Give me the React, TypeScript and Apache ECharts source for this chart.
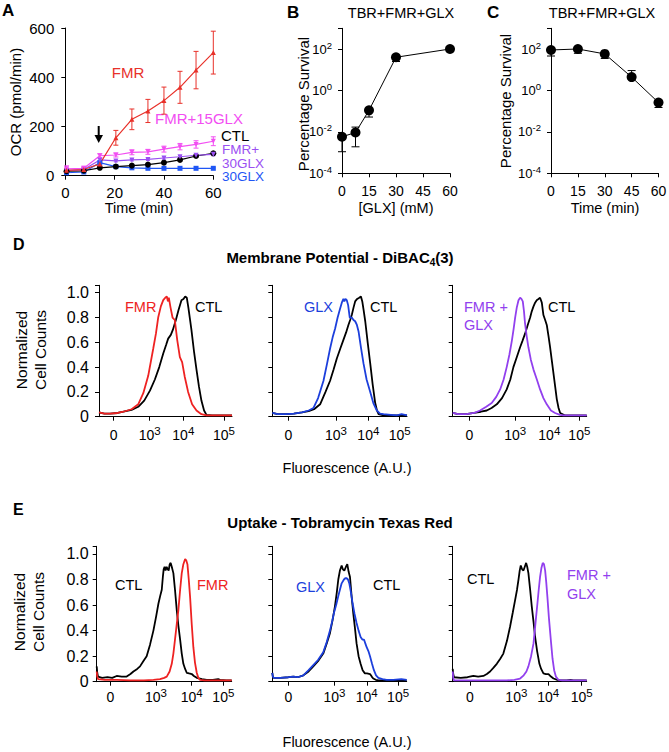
import React, { useEffect, useRef } from 'react';
import * as echarts from 'echarts';

const FONT = 'Arial, "Liberation Sans", Helvetica, sans-serif';

// ---------- Panel A : OCR (pmol/min) vs time (min) ----------
const OCR_TIME = [0.5, 7.5, 14, 20.5, 27, 33.5, 40, 46.5, 53, 60];
const OCR_FMR = [22, 25, 48, 154, 229, 263, 305, 359, 429, 500];
const OCR_FMR_SD = [8, 6, 8, 30, 42, 47, 55, 65, 76, 87];
const OCR_FMR15 = [28, 30, 81, 84, 95, 97, 108, 118, 127, 140];
const OCR_FMR15_SD = [12, 8, 8, 8, 10, 10, 12, 13, 15, 18];
const OCR_FMR30 = [22, 25, 64, 60, 64, 66, 72, 77, 83, 87];
const OCR_FMR30_SD = [5, 5, 5, 4, 4, 4, 5, 5, 5, 6];
const OCR_CTL = [18, 20, 32, 37, 41, 45, 53, 64, 80, 91];
const OCR_CTL_SD = [4, 4, 6, 4, 4, 4, 5, 5, 6, 6];
const OCR_GLX30 = [12, 15, 53, 37, 32, 30, 30, 30, 30, 30];
const OCR_GLX30_SD = [3, 3, 4, 3, 3, 3, 3, 3, 3, 3];

// ---------- Panel B : survival vs [GLX] ----------
const GLX_CONC = [0, 7.5, 15, 30, 60];
const SURV_B = [0.0058, 0.0093, 0.11, 40, 100];
const SURV_B_LO = [0.0011, 0.0019, 0.052, 25, 100];
const SURV_B_HI = [0.0058, 0.017, 0.11, 40, 100];

// ---------- Panel C : survival vs time ----------
const TIME_C = [0, 15, 30, 45, 60];
const SURV_C = [90, 100, 58, 4.4, 0.26];
const SURV_C_LO = [46, 62, 35, 4.4, 0.15];
const SURV_C_HI = [90, 100, 58, 9.1, 0.26];

// ---------- Flow histograms (x in display channel 0-1000, y normalized) ----------
const FLOW_LABELS = ['0', '10{s|3}', '10{s|4}', '10{s|5}'];
const TICKS_D1 = [110, 381, 634, 940];
const TICKS_D2 = [119, 473, 713, 946];
const TICKS_D3 = [124, 467, 721, 945];
const TICKS_E1 = [101, 439, 704, 938];
const TICKS_E2 = [119, 463, 703, 936];
const TICKS_E3 = [129, 475, 713, 963];

const D1_CTL = [[0,0.035],[40,0.025],[83,0.025],[140,0.03],[183,0.04],[245,0.055],[295,0.08],[340,0.13],[383,0.21],[420,0.3],[453,0.4],[483,0.51],[505,0.58],[520,0.63],[540,0.66],[555,0.7],[578,0.78],[598,0.86],[620,0.94],[635,0.95],[648,0.97],[660,0.96],[672,0.88],[685,0.78],[695,0.7],[715,0.52],[733,0.38],[752,0.24],[770,0.13],[790,0.05],[808,0.015],[850,0.01],[1000,0.01]];
const D1_FMR = [[0,0.035],[40,0.025],[83,0.025],[140,0.03],[183,0.04],[245,0.06],[295,0.1],[333,0.19],[370,0.33],[408,0.55],[428,0.67],[445,0.8],[465,0.89],[483,0.94],[498,0.96],[510,0.97],[518,0.93],[525,0.96],[538,0.88],[553,0.8],[570,0.78],[588,0.62],[608,0.48],[625,0.44],[645,0.32],[670,0.2],[700,0.1],[733,0.05],[770,0.02],[808,0.01],[1000,0.01]];
const D2_CTL = [[0,0.03],[40,0.02],[100,0.02],[160,0.025],[220,0.035],[270,0.045],[310,0.06],[355,0.1],[395,0.2],[429,0.29],[455,0.38],[479,0.47],[505,0.55],[528,0.62],[548,0.68],[565,0.74],[578,0.78],[590,0.82],[603,0.88],[615,0.93],[630,0.95],[645,0.96],[658,0.97],[668,0.93],[678,0.86],[690,0.77],[708,0.6],[727,0.43],[745,0.26],[764,0.11],[777,0.05],[789,0.02],[826,0.01],[1000,0.01]];
const D2_GLX = [[0,0.03],[40,0.02],[100,0.02],[160,0.025],[220,0.035],[270,0.05],[305,0.07],[340,0.15],[380,0.29],[405,0.42],[429,0.55],[448,0.64],[466,0.71],[485,0.8],[503,0.87],[516,0.92],[528,0.95],[535,0.93],[543,0.95],[553,0.94],[563,0.9],[575,0.8],[590,0.8],[603,0.78],[615,0.77],[628,0.74],[640,0.69],[658,0.56],[677,0.43],[700,0.3],[727,0.2],[750,0.11],[776,0.05],[800,0.025],[826,0.02],[880,0.015],[925,0.01],[960,0.02],[1000,0.01]];
const D3_CTL = [[0,0.03],[40,0.02],[100,0.02],[160,0.03],[210,0.04],[254,0.05],[290,0.07],[329,0.1],[368,0.15],[403,0.22],[430,0.3],[453,0.4],[478,0.48],[503,0.56],[520,0.61],[540,0.67],[560,0.74],[578,0.8],[590,0.85],[603,0.89],[615,0.92],[627,0.94],[640,0.95],[652,0.96],[665,0.92],[677,0.82],[690,0.78],[702,0.74],[715,0.65],[727,0.56],[740,0.45],[752,0.35],[765,0.24],[777,0.14],[790,0.07],[802,0.03],[839,0.01],[1000,0.01]];
const D3_FMRGLX = [[0,0.03],[40,0.02],[100,0.02],[160,0.03],[204,0.05],[250,0.08],[291,0.11],[325,0.16],[354,0.22],[380,0.3],[403,0.4],[423,0.5],[441,0.61],[455,0.71],[466,0.8],[478,0.88],[491,0.94],[503,0.96],[513,0.95],[523,0.93],[532,0.85],[540,0.75],[552,0.65],[565,0.56],[583,0.46],[603,0.38],[628,0.3],[652,0.22],[677,0.15],[702,0.1],[733,0.05],[764,0.03],[800,0.015],[827,0.01],[1000,0.01]];
const E1_CTL = [[0,0.12],[4,0.07],[10,0.04],[40,0.03],[80,0.035],[115,0.03],[148,0.045],[185,0.04],[222,0.04],[250,0.06],[272,0.08],[300,0.1],[321,0.12],[345,0.16],[370,0.2],[395,0.29],[420,0.4],[440,0.51],[457,0.61],[470,0.67],[482,0.72],[490,0.82],[496,0.88],[503,0.9],[510,0.87],[518,0.9],[526,0.88],[533,0.87],[541,0.92],[548,0.93],[556,0.9],[568,0.85],[580,0.72],[593,0.56],[605,0.44],[618,0.33],[630,0.22],[642,0.14],[655,0.1],[667,0.07],[685,0.065],[704,0.06],[720,0.045],[741,0.03],[780,0.02],[815,0.015],[860,0.015],[900,0.02],[914,0.015],[960,0.01],[1000,0.01]];
const E1_FMR = [[0,0.08],[4,0.04],[10,0.02],[60,0.015],[150,0.015],[250,0.01],[350,0.01],[420,0.015],[469,0.02],[500,0.03],[519,0.04],[540,0.08],[556,0.14],[568,0.22],[580,0.33],[593,0.45],[605,0.56],[618,0.72],[630,0.85],[642,0.92],[655,0.96],[663,0.95],[672,0.92],[682,0.8],[692,0.66],[704,0.45],[716,0.27],[728,0.15],[741,0.07],[753,0.03],[766,0.015],[800,0.01],[1000,0.01]];
const E2_CTL = [[0,0.07],[4,0.04],[10,0.03],[60,0.03],[120,0.035],[156,0.04],[190,0.035],[231,0.05],[270,0.08],[305,0.12],[340,0.16],[379,0.22],[405,0.3],[429,0.38],[448,0.48],[466,0.59],[480,0.7],[491,0.8],[503,0.87],[516,0.91],[525,0.88],[536,0.87],[548,0.9],[558,0.92],[568,0.86],[578,0.82],[590,0.67],[603,0.53],[615,0.42],[627,0.3],[642,0.2],[657,0.14],[672,0.09],[689,0.065],[705,0.065],[727,0.06],[740,0.04],[751,0.025],[770,0.015],[789,0.01],[1000,0.01]];
const E2_GLX = [[0,0.07],[4,0.04],[10,0.03],[60,0.03],[120,0.035],[156,0.04],[190,0.035],[231,0.05],[270,0.09],[305,0.13],[340,0.17],[379,0.23],[405,0.31],[429,0.4],[445,0.47],[459,0.54],[475,0.6],[491,0.67],[503,0.72],[516,0.77],[533,0.8],[543,0.81],[553,0.81],[563,0.8],[573,0.77],[585,0.7],[598,0.61],[612,0.53],[627,0.46],[642,0.4],[657,0.35],[670,0.33],[682,0.33],[692,0.3],[702,0.27],[715,0.24],[727,0.2],[742,0.14],[756,0.09],[772,0.05],[789,0.03],[820,0.02],[851,0.015],[900,0.015],[960,0.02],[1000,0.015]];
const E3_CTL = [[0,0.1],[4,0.06],[10,0.035],[60,0.03],[110,0.035],[154,0.045],[190,0.04],[229,0.045],[255,0.06],[279,0.08],[305,0.11],[329,0.14],[355,0.18],[378,0.22],[405,0.32],[428,0.43],[448,0.54],[466,0.64],[480,0.72],[491,0.8],[500,0.87],[508,0.91],[518,0.88],[528,0.87],[538,0.9],[548,0.93],[556,0.9],[565,0.85],[578,0.72],[590,0.59],[603,0.47],[615,0.35],[630,0.24],[647,0.14],[660,0.1],[677,0.065],[695,0.06],[715,0.06],[733,0.04],[752,0.025],[780,0.015],[802,0.01],[850,0.01],[880,0.015],[900,0.01],[1000,0.01]];
const E3_FMRGLX = [[0,0.08],[4,0.03],[10,0.01],[100,0.01],[200,0.01],[300,0.01],[403,0.01],[460,0.015],[503,0.025],[530,0.05],[550,0.08],[565,0.12],[585,0.2],[603,0.3],[618,0.46],[632,0.61],[642,0.72],[652,0.82],[662,0.89],[672,0.93],[681,0.92],[690,0.87],[698,0.78],[707,0.66],[718,0.5],[732,0.33],[745,0.18],[757,0.09],[770,0.04],[789,0.015],[820,0.01],[1000,0.01]];

// ---------- colours ----------
const C_RED = '#e8312a';
const C_MAG = '#f24ef2';
const C_PUR = '#9a50f2';
const C_BLU = '#1f56f5';
const H_RED = '#ee2222';
const H_BLU = '#1c3fdc';
const H_PUR = '#9240ee';

const pairs = (xs: number[], ys: number[]) => xs.map((x, i) => [x, ys[i]]);
const sdRows = (xs: number[], ys: number[], sd: number[]) => xs.map((x, i) => [x, ys[i] - sd[i], ys[i] + sd[i]]);
const loHiRows = (xs: number[], lo: number[], hi: number[]) => xs.map((x, i) => [x, lo[i], hi[i]]);

const AX_LINE = { show: true, onZero: false, lineStyle: { color: '#000', width: 1 } };
const AX_TICK = { show: true, inside: false, length: 4, lineStyle: { color: '#000', width: 1 } };
const NO_SPLIT = { show: false };

function errorSeries(axis: number, data: number[][], color: string, cap: number) {
  return {
    type: 'custom',
    xAxisIndex: axis,
    yAxisIndex: axis,
    data,
    silent: true,
    z: 2,
    encode: { x: 0, y: [1, 2] },
    renderItem: (_p: any, api: any) => {
      const x = api.value(0);
      const lo = api.coord([x, api.value(1)]);
      const hi = api.coord([x, api.value(2)]);
      const h = cap / 2;
      const style = { stroke: color, lineWidth: 1, fill: 'none' };
      return {
        type: 'group',
        children: [
          { type: 'line', shape: { x1: lo[0], y1: lo[1], x2: hi[0], y2: hi[1] }, style },
          { type: 'line', shape: { x1: lo[0] - h, y1: lo[1], x2: lo[0] + h, y2: lo[1] }, style },
          { type: 'line', shape: { x1: hi[0] - h, y1: hi[1], x2: hi[0] + h, y2: hi[1] }, style },
        ],
      };
    },
  };
}

function ocrLine(data: number[][], color: string, symbol: string, size: number, rot = 0) {
  return {
    type: 'line', xAxisIndex: 0, yAxisIndex: 0, data,
    symbol, symbolSize: size, symbolRotate: rot, showSymbol: true,
    lineStyle: { color, width: 1.2 }, itemStyle: { color }, z: 3,
  };
}

function survLine(axis: number, data: number[][]) {
  return {
    type: 'line', xAxisIndex: axis, yAxisIndex: axis, data,
    symbol: 'circle', symbolSize: 10, showSymbol: true,
    lineStyle: { color: '#000', width: 1 }, itemStyle: { color: '#000' }, z: 3,
  };
}

function histLine(axis: number, data: number[][], color: string) {
  return {
    type: 'line', xAxisIndex: axis, yAxisIndex: axis, data,
    symbol: 'none', showSymbol: false,
    lineStyle: { color, width: 1.8 }, z: 3,
  };
}

function supLabel(v: number) {
  const e = Math.round(Math.log10(v));
  if (e % 2 !== 0) return '';
  return '10{s|' + e + '}';
}

function logY(grid: number) {
  return {
    type: 'log', gridIndex: grid, logBase: 100, min: 1e-4, max: 1e3, splitNumber: 4,
    axisLine: AX_LINE, axisTick: AX_TICK, splitLine: NO_SPLIT,
    axisLabel: {
      formatter: supLabel, color: '#000', fontSize: 13, margin: 10, lineHeight: 18,
      rich: { s: { fontSize: 9.5, verticalAlign: 'top', color: '#000' } },
    },
  };
}

function linX(grid: number, max: number, interval: number, fs: number, margin: number) {
  return {
    type: 'value', gridIndex: grid, min: 0, max, interval,
    axisLine: AX_LINE, axisTick: AX_TICK, splitLine: NO_SPLIT,
    axisLabel: { color: '#000', fontSize: fs, margin },
  };
}

function histX(grid: number, ticks: number[], margin: number) {
  return {
    type: 'value', gridIndex: grid, min: 0, max: 1000,
    axisLine: AX_LINE, splitLine: NO_SPLIT,
    axisTick: { ...AX_TICK, customValues: ticks },
    axisLabel: {
      customValues: ticks, color: '#000', fontSize: 14, margin, lineHeight: 20,
      formatter: (v: number) => {
        const i = ticks.findIndex((t) => Math.abs(t - v) < 0.5);
        return i < 0 ? '' : FLOW_LABELS[i];
      },
      rich: { s: { fontSize: 11.5, verticalAlign: 'top', color: '#000' } },
    },
  };
}

function histY(grid: number, show: boolean, margin: number) {
  return {
    type: 'value', gridIndex: grid, min: 0, max: 1.06, interval: 0.2,
    axisLine: AX_LINE, axisTick: AX_TICK, splitLine: NO_SPLIT,
    axisLabel: {
      show, color: '#000', fontSize: 16, margin,
      formatter: (v: number) => (v > 1.001 ? '' : v === 0 ? '0' : v.toFixed(1)),
    },
  };
}

type TOpt = { color?: string; size?: number; bold?: boolean; align?: string; rot?: number; lh?: number; rich?: any };
function txt(text: string, x: number, y: number, o: TOpt = {}) {
  return {
    type: 'text', x, y, rotation: o.rot || 0, silent: true,
    style: {
      text, fill: o.color || '#000', fontSize: o.size || 15,
      fontWeight: o.bold ? 'bold' : 'normal', fontFamily: FONT,
      align: o.align || 'left', verticalAlign: 'middle',
      lineHeight: o.lh, rich: o.rich,
    },
  };
}

function buildOption() {
  const grids = [
    { left: 65.3, top: 28, width: 148, height: 147.7 },
    { left: 342, top: 28.3, width: 108, height: 145 },
    { left: 551, top: 28.3, width: 107.5, height: 145 },
    { left: 99, top: 285.3, width: 133, height: 131.4 },
    { left: 272.3, top: 285.3, width: 134.7, height: 131.4 },
    { left: 452.7, top: 285.3, width: 134, height: 131.4 },
    { left: 96.7, top: 546.3, width: 135, height: 135.4 },
    { left: 272.3, top: 546.3, width: 134.4, height: 135.4 },
    { left: 452.7, top: 546.3, width: 134, height: 135.4 },
  ].map((g) => ({ ...g, containLabel: false, outerBoundsMode: 'none' }));

  const xAxis = [
    linX(0, 60, 20, 15, 9),
    linX(1, 60, 15, 14, 11),
    linX(2, 60, 15, 14, 11),
    histX(3, TICKS_D1, 8),
    histX(4, TICKS_D2, 8),
    histX(5, TICKS_D3, 8),
    histX(6, TICKS_E1, 5),
    histX(7, TICKS_E2, 5),
    histX(8, TICKS_E3, 5),
  ];
  const yAxis = [
    {
      type: 'value', gridIndex: 0, min: 0, max: 600, interval: 200,
      axisLine: AX_LINE, axisTick: AX_TICK, splitLine: NO_SPLIT,
      axisLabel: { color: '#000', fontSize: 15, margin: 11 },
    },
    logY(1),
    logY(2),
    histY(3, true, 10),
    histY(4, false, 10),
    histY(5, false, 10),
    histY(6, true, 8),
    histY(7, false, 8),
    histY(8, false, 8),
  ];

  const series: any[] = [
    errorSeries(0, sdRows(OCR_TIME, OCR_CTL, OCR_CTL_SD), '#000', 4),
    errorSeries(0, sdRows(OCR_TIME, OCR_GLX30, OCR_GLX30_SD), C_BLU, 4),
    errorSeries(0, sdRows(OCR_TIME, OCR_FMR30, OCR_FMR30_SD), C_PUR, 4),
    errorSeries(0, sdRows(OCR_TIME, OCR_FMR15, OCR_FMR15_SD), C_MAG, 5),
    errorSeries(0, sdRows(OCR_TIME, OCR_FMR, OCR_FMR_SD), C_RED, 5),
    ocrLine(pairs(OCR_TIME, OCR_GLX30), C_BLU, 'rect', 5),
    ocrLine(pairs(OCR_TIME, OCR_CTL), '#000', 'circle', 6),
    ocrLine(pairs(OCR_TIME, OCR_FMR30), C_PUR, 'triangle', 5, 180),
    ocrLine(pairs(OCR_TIME, OCR_FMR15), C_MAG, 'triangle', 5, 180),
    ocrLine(pairs(OCR_TIME, OCR_FMR), C_RED, 'triangle', 5),
    errorSeries(1, loHiRows(GLX_CONC, SURV_B_LO, SURV_B_HI), '#000', 8),
    survLine(1, pairs(GLX_CONC, SURV_B)),
    errorSeries(2, loHiRows(TIME_C, SURV_C_LO, SURV_C_HI), '#000', 8),
    survLine(2, pairs(TIME_C, SURV_C)),
    histLine(3, D1_CTL, '#000'),
    histLine(3, D1_FMR, H_RED),
    histLine(4, D2_CTL, '#000'),
    histLine(4, D2_GLX, H_BLU),
    histLine(5, D3_CTL, '#000'),
    histLine(5, D3_FMRGLX, H_PUR),
    histLine(6, E1_CTL, '#000'),
    histLine(6, E1_FMR, H_RED),
    histLine(7, E2_CTL, '#000'),
    histLine(7, E2_GLX, H_BLU),
    histLine(8, E3_CTL, '#000'),
    histLine(8, E3_FMRGLX, H_PUR),
  ];

  const R = Math.PI / 2;
  const graphic: any[] = [
    // panel letters
    txt('A', 2, 10, { bold: true, size: 17 }),
    txt('B', 287, 12, { bold: true, size: 17 }),
    txt('C', 487, 12, { bold: true, size: 17 }),
    txt('D', 13, 244, { bold: true, size: 16 }),
    txt('E', 13, 509, { bold: true, size: 16 }),
    // panel A annotations
    txt('FMR', 128, 72, { color: C_RED, align: 'center' }),
    txt('FMR+15GLX', 155, 118, { color: C_MAG }),
    txt('CTL', 221, 135),
    txt('FMR+', 222, 149.5, { color: C_PUR, size: 13.5 }),
    txt('30GLX', 222, 163, { color: C_PUR, size: 13.5 }),
    txt('30GLX', 222, 176.5, { color: C_BLU, size: 13.5 }),
    { type: 'line', silent: true, shape: { x1: 98.7, y1: 126, x2: 98.7, y2: 137 }, style: { stroke: '#000', lineWidth: 2 } },
    { type: 'polygon', silent: true, shape: { points: [[94.5, 135], [103, 135], [98.7, 143]] }, style: { fill: '#000' } },
    txt('OCR (pmol/min)', 15, 102, { rot: R, align: 'center' }),
    txt('Time (min)', 139, 208, { align: 'center', size: 14.5 }),
    // panels B, C
    txt('TBR+FMR+GLX', 401, 13, { align: 'center', size: 14.5 }),
    txt('TBR+FMR+GLX', 602, 13, { align: 'center', size: 14.5 }),
    txt('Percentage Survival', 303, 104, { rot: R, align: 'center' }),
    txt('Percentage Survival', 505, 101, { rot: R, align: 'center' }),
    txt('[GLX] (mM)', 396, 208, { align: 'center', size: 14.5 }),
    txt('Time (min)', 605, 208, { align: 'center', size: 14.5 }),
    // D
    txt('Membrane Potential - DiBAC{sub|4}(3)', 340, 257, {
      bold: true, align: 'center', size: 15, lh: 20,
      rich: { sub: { fontSize: 10, fontWeight: 'bold', fontFamily: FONT, verticalAlign: 'bottom', fill: '#000' } },
    }),
    txt('Normalized\nCell Counts', 31, 350, { rot: R, align: 'center', size: 15.5, lh: 18.5 }),
    txt('Fluorescence (A.U.)', 347, 468, { align: 'center', size: 14.5 }),
    txt('FMR', 125, 307, { color: H_RED, size: 14.5 }),
    txt('CTL', 195, 307, { size: 14.5 }),
    txt('GLX', 304, 306.5, { color: H_BLU, size: 14.5 }),
    txt('CTL', 370, 306.5, { size: 14.5 }),
    txt('FMR +', 464, 306.5, { color: H_PUR, size: 14.5 }),
    txt('GLX', 464, 325, { color: H_PUR, size: 14.5 }),
    txt('CTL', 548, 306.5, { size: 14.5 }),
    // E
    txt('Uptake - Tobramycin Texas Red', 340, 522, { bold: true, align: 'center', size: 15 }),
    txt('Normalized\nCell Counts', 29, 612, { rot: R, align: 'center', size: 15.5, lh: 18.5 }),
    txt('Fluorescence (A.U.)', 347, 742, { align: 'center', size: 14.5 }),
    txt('CTL', 115, 585, { size: 14.5 }),
    txt('FMR', 197, 585, { color: H_RED, size: 14.5 }),
    txt('GLX', 296, 587, { color: H_BLU, size: 14.5 }),
    txt('CTL', 373, 585, { size: 14.5 }),
    txt('CTL', 467, 579, { size: 14.5 }),
    txt('FMR +', 567, 575, { color: H_PUR, size: 14.5 }),
    txt('GLX', 567, 594, { color: H_PUR, size: 14.5 }),
  ];

  return {
    animation: false,
    backgroundColor: '#fff',
    textStyle: { fontFamily: FONT },
    grid: grids,
    xAxis,
    yAxis,
    series,
    graphic,
  };
}

export default function App() {
  const ref = useRef<HTMLDivElement>(null);
  useEffect(() => {
    document.body.style.margin = '0';
    const chart = echarts.init(ref.current as HTMLDivElement, null, { renderer: 'svg', width: 669, height: 752 });
    chart.setOption(buildOption() as any);
    return () => chart.dispose();
  }, []);
  return <div ref={ref} style={{ width: 669, height: 752 }} />;
}
